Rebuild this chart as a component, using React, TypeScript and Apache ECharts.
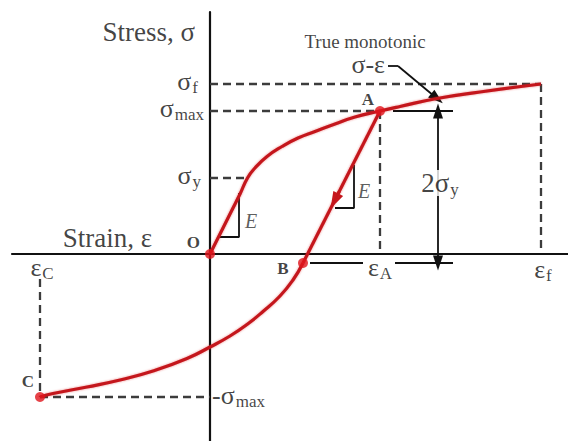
import React, { useEffect, useRef } from 'react';
import * as echarts from 'echarts';

const SERIF = '"Liberation Serif", "Times New Roman", "DejaVu Serif", serif';
const INK = '#111111';
const DASH = '#3c3c3c';
const RED = '#c4161c';

// Axis extents (strain / stress in arbitrary units)
const xMin = -19.8;
const xMax = 35.8;
const yMin = -18.7;
const yMax = 24.2;

// Characteristic levels
const sigmaF = 17.0;
const sigmaMax = 14.3;
const sigmaY = 7.6;
const epsF = 33.1;
const epsA = 17.0;
const epsB = 9.3;
const epsC = -17.0;
const sigmaB = sigmaMax - 2 * sigmaY;

// True monotonic stress-strain curve O -> A -> fracture
const monotonicStrain = [0, 1.2, 2.2, 3.0, 3.75, 4.5, 5.7, 7.2, 8.8, 10.5, 12.5, 14.5, 17.0, 19.0, 22.7, 27.0, 33.1];
const monotonicStress = [0, 2.4, 4.4, 6.0, 7.6, 8.6, 9.75, 10.75, 11.6, 12.25, 13.0, 13.7, 14.3, 14.75, 15.55, 16.2, 17.0];

// Elastic unloading A -> B
const unloadStrain = [epsA, epsB];
const unloadStress = [sigmaMax, sigmaB];

// Reversed loading B -> C
const reverseStrain = [epsB, 8.3, 7.0, 5.3, 3.7, 2.0, 0, -2.3, -5.7, -9.0, -12.3, -15.7, epsC];
const reverseStress = [sigmaB, -2.6, -4.2, -5.75, -7.05, -8.2, -9.3, -10.45, -11.7, -12.6, -13.3, -13.95, -sigmaMax];

// Slope triangles marking the elastic modulus E: [x0, x1, yLow, yHigh]
const slopeTriangle1 = [0.8, 2.9, 1.7, 6.1];
const slopeTriangle2 = [12.5, 14.4, 4.6, 8.9];

// 2σy dimension: x of the arrow, extension line ends, and the gap left for the εA label
const dimX = 22.8;
const dimUpperLeft = 18.3;
const dimLowerLeft = 10.0;
const dimRight = 24.3;
const epsALabelGap = [15.3, 18.5];

// Leader for the "True monotonic σ-ε" note
const noteStart = [17.8, 18.8];
const noteBend = [18.8, 18.8];
const noteTipIndex = 14;

const zip = (xs: number[], ys: number[]) => xs.map((x, i) => [x, ys[i]]);

const rich = {
  m: { fontSize: 26, lineHeight: 24, fontFamily: SERIF, color: INK },
  b: { fontSize: 27, lineHeight: 26, fontFamily: SERIF, color: INK },
  s: { fontSize: 17, lineHeight: 14, fontFamily: SERIF, color: INK, padding: [12, 0, 0, 1] },
};

const lab = (value: number[], formatter: string, extra: Record<string, unknown> = {}) => ({
  value,
  label: { formatter, ...extra },
});

function buildOption() {
  const tri = (t: number[]) => [
    [t[0], t[2]],
    [t[1], t[2]],
    [t[1], t[3]],
  ];

  // arrowhead on the unloading branch, placed on segment A-B
  const along = (y: number) => epsB + ((epsA - epsB) * (y - sigmaB)) / (sigmaMax - sigmaB);
  const arrowTipY = 5.3;
  const arrowTailY = 6.3;

  const noteTip = [monotonicStrain[noteTipIndex], monotonicStress[noteTipIndex]];

  const seg = (a: number[], b: number[], endSymbol = 'none', startSymbol = 'none') => [
    { coord: a, symbol: startSymbol },
    { coord: b, symbol: endSymbol },
  ];

  const curveStyle = { color: RED, width: 3.2, shadowBlur: 2, shadowColor: 'rgba(220,30,30,0.5)' };

  const labels = [
    lab([0, yMax], 'Stress, σ', { align: 'right', offset: [-15, 20], fontSize: 27, lineHeight: 26 }),
    lab([0, 0], 'Strain, ε', { align: 'right', offset: [-58, -16], fontSize: 27, lineHeight: 26 }),
    lab([0, 0], 'O', { align: 'right', offset: [-10, -12], fontSize: 17, fontWeight: 'bold' }),
    lab([epsA, sigmaMax], 'A', { offset: [-12, -12], fontSize: 17, fontWeight: 'bold' }),
    lab([epsB, sigmaB], 'B', { offset: [-20, 5], fontSize: 17, fontWeight: 'bold' }),
    lab([epsC, -sigmaMax], 'C', { offset: [-12, -16], fontSize: 17, fontWeight: 'bold' }),
    lab([0, sigmaF], '{m|σ}{s|f}', { align: 'right', offset: [-12, -3] }),
    lab([0, sigmaMax], '{m|σ}{s|max}', { align: 'right', offset: [-6, -3] }),
    lab([0, sigmaY], '{m|σ}{s|y}', { align: 'right', offset: [-9, -3] }),
    lab([0, -sigmaMax], '{m|-σ}{s|max}', { align: 'left', offset: [2, -2] }),
    lab([epsC, 0], '{m|ε}{s|C}', { offset: [2, 13] }),
    lab([epsA, 0], '{m|ε}{s|A}', { offset: [0, 13] }),
    lab([epsF, 0], '{m|ε}{s|f}', { offset: [2, 15] }),
    lab([dimX, (sigmaMax + sigmaB) / 2], '{b|2σ}{s|y}', { offset: [2, -4], backgroundColor: '#ffffff' }),
    lab([slopeTriangle1[1], (slopeTriangle1[2] + slopeTriangle1[3]) / 2], 'E', {
      offset: [12, 6], fontSize: 20, fontStyle: 'italic', color: '#333',
    }),
    lab([slopeTriangle2[1], (slopeTriangle2[2] + slopeTriangle2[3]) / 2], 'E', {
      offset: [10, 4], fontSize: 20, fontStyle: 'italic', color: '#333',
    }),
    lab(noteStart, 'True monotonic', { offset: [-23, -25], fontSize: 19, lineHeight: 18 }),
    lab(noteStart, 'σ-ε', { align: 'right', offset: [-3, -2], fontSize: 26, lineHeight: 20 }),
  ];

  return {
    animation: false,
    backgroundColor: '#ffffff',
    grid: { left: 12, right: 0, top: 12, bottom: 0, containLabel: false },
    xAxis: {
      type: 'value',
      min: xMin,
      max: xMax,
      axisLine: { onZero: true, lineStyle: { color: INK, width: 2.2 } },
      axisTick: { show: false },
      axisLabel: { show: false },
      splitLine: { show: false },
    },
    yAxis: {
      type: 'value',
      min: yMin,
      max: yMax,
      axisLine: { onZero: true, lineStyle: { color: INK, width: 2.2 } },
      axisTick: { show: false },
      axisLabel: { show: false },
      splitLine: { show: false },
    },
    series: [
      {
        name: 'guides',
        type: 'line',
        data: [],
        silent: true,
        z: 1,
        markLine: {
          silent: true,
          animation: false,
          label: { show: false },
          lineStyle: { color: DASH, width: 2.3, type: [8, 5] },
          data: [
            seg([0, sigmaF], [epsF, sigmaF]),
            seg([epsF, sigmaF], [epsF, 0.4]),
            seg([0, sigmaMax], [epsA, sigmaMax]),
            seg([epsA, sigmaMax], [epsA, 0.4]),
            seg([0, sigmaY], [monotonicStrain[4], sigmaY]),
            seg([epsC, -2.5], [epsC, -sigmaMax]),
            seg([epsC, -sigmaMax], [0, -sigmaMax]),
          ],
        },
      },
      {
        name: 'dimensions',
        type: 'line',
        data: [],
        silent: true,
        z: 2,
        markLine: {
          silent: true,
          animation: false,
          label: { show: false },
          symbolSize: [10, 15],
          lineStyle: { color: INK, width: 1.8, type: 'solid' },
          data: [
            seg([dimUpperLeft, sigmaMax], [dimRight, sigmaMax]),
            seg([dimLowerLeft, sigmaB], [epsALabelGap[0], sigmaB]),
            seg([epsALabelGap[1], sigmaB], [dimRight, sigmaB]),
            seg([dimX, sigmaMax], [dimX, sigmaB], 'triangle', 'triangle'),
            seg(noteStart, noteBend),
            seg(noteBend, noteTip, 'triangle'),
          ],
        },
      },
      {
        name: 'slope1',
        type: 'line',
        data: tri(slopeTriangle1),
        symbol: 'none',
        silent: true,
        lineStyle: { color: INK, width: 1.8 },
        z: 2,
      },
      {
        name: 'slope2',
        type: 'line',
        data: tri(slopeTriangle2),
        symbol: 'none',
        silent: true,
        lineStyle: { color: INK, width: 1.8 },
        z: 2,
      },
      {
        name: 'monotonic',
        type: 'line',
        data: zip(monotonicStrain, monotonicStress),
        smooth: 0.5,
        symbol: 'none',
        lineStyle: curveStyle,
        z: 5,
      },
      {
        name: 'unloading',
        type: 'line',
        data: zip(unloadStrain, unloadStress),
        symbol: 'none',
        lineStyle: curveStyle,
        z: 5,
        markLine: {
          silent: true,
          animation: false,
          label: { show: false },
          symbolSize: [11, 17],
          lineStyle: { color: RED, width: 3, type: 'solid' },
          itemStyle: { color: RED },
          data: [seg([along(arrowTailY), arrowTailY], [along(arrowTipY), arrowTipY], 'triangle')],
        },
      },
      {
        name: 'reversed',
        type: 'line',
        data: zip(reverseStrain, reverseStress),
        smooth: 0.5,
        symbol: 'none',
        lineStyle: curveStyle,
        z: 5,
      },
      {
        name: 'points',
        type: 'scatter',
        data: [
          [0, 0],
          [epsA, sigmaMax],
          [epsB, sigmaB],
          [epsC, -sigmaMax],
        ],
        symbolSize: 10,
        itemStyle: { color: '#e0141c' },
        z: 6,
      },
      {
        name: 'labels',
        type: 'scatter',
        data: labels,
        symbolSize: 1,
        itemStyle: { color: 'rgba(0,0,0,0)' },
        silent: true,
        z: 7,
        label: {
          show: true,
          position: 'inside',
          fontFamily: SERIF,
          color: INK,
          fontSize: 26,
          rich,
        },
      },
    ],
  };
}

export default function App() {
  const ref = useRef<HTMLDivElement>(null);
  useEffect(() => {
    const chart = echarts.init(ref.current as HTMLDivElement, null, { renderer: 'svg' });
    chart.setOption(buildOption() as any);
    return () => chart.dispose();
  }, []);
  return (
    <div
      ref={ref}
      style={{ position: 'fixed', left: 0, top: 0, width: 568, height: 441, background: '#fff' }}
    />
  );
}
